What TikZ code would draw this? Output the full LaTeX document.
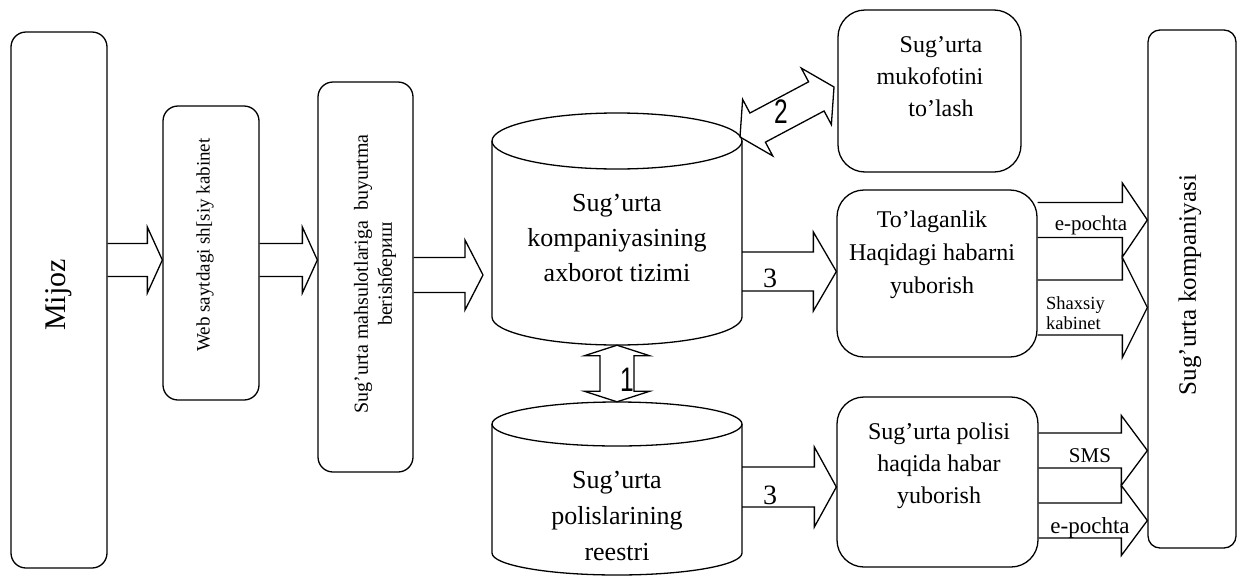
\documentclass[tikz,border=0pt]{standalone}
\usepackage{graphicx}
\usepackage{fontspec}
\setmainfont{Liberation Serif}
\newfontfamily\numfont{Liberation Sans}
\usetikzlibrary{calc}
\tikzset{
  ln/.style={line width=1.3pt},
  sbox/.style={ln, draw, rounded corners=15pt, inner sep=0pt},
  lbox/.style={ln, draw, rounded corners=27pt, inner sep=0pt},
  txt/.style={align=center, inner sep=0pt},
  arrowdims/.code n args={3}{%
    \pgfmathsetmacro\BAsw{#1}\pgfmathsetmacro\BAhw{#2}\pgfmathsetmacro\BAhl{#3}%
    \pgfmathsetmacro\BAra{veclen(#3,#1)}\pgfmathsetmacro\BAta{atan2(#1,#3)}%
    \pgfmathsetmacro\BArb{veclen(#3,#2)}\pgfmathsetmacro\BAtb{atan2(#2,#3)}%
  },
  barrow/.style n args={3}{ln, arrowdims={#1}{#2}{#3}, to path={
    ($(\tikztostart)!\BAsw pt!90:(\tikztotarget)$)
    -- ($(\tikztotarget)!\BAra pt!-\BAta:(\tikztostart)$)
    -- ($(\tikztotarget)!\BArb pt!-\BAtb:(\tikztostart)$)
    -- (\tikztotarget)
    -- ($(\tikztotarget)!\BArb pt!\BAtb:(\tikztostart)$)
    -- ($(\tikztotarget)!\BAra pt!\BAta:(\tikztostart)$)
    -- ($(\tikztostart)!\BAsw pt!-90:(\tikztotarget)$)
  }},
  dbarrow/.style n args={3}{ln, arrowdims={#1}{#2}{#3}, to path={
    (\tikztostart)
    -- ($(\tikztostart)!\BArb pt!\BAtb:(\tikztotarget)$)
    -- ($(\tikztostart)!\BAra pt!\BAta:(\tikztotarget)$)
    -- ($(\tikztotarget)!\BAra pt!-\BAta:(\tikztostart)$)
    -- ($(\tikztotarget)!\BArb pt!-\BAtb:(\tikztostart)$)
    -- (\tikztotarget)
    -- ($(\tikztotarget)!\BArb pt!\BAtb:(\tikztostart)$)
    -- ($(\tikztotarget)!\BAra pt!\BAta:(\tikztostart)$)
    -- ($(\tikztostart)!\BAra pt!-\BAta:(\tikztotarget)$)
    -- ($(\tikztostart)!\BArb pt!-\BAtb:(\tikztotarget)$)
    -- cycle
  }},
  numlbl/.style={inner sep=0pt, font=\numfont\fontsize{34}{34}\selectfont},
  serlbl/.style={inner sep=0pt, font=\fontsize{28}{28}\selectfont},
}
\begin{document}
\begin{tikzpicture}[x=1pt,y=-1pt]
\useasboundingbox (0,0) rectangle (1237,576);

% left boxes
\node[sbox, minimum width=96pt, minimum height=536pt] (mijoz) at (59,300) {};
\node[txt, rotate=90, font=\fontsize{30}{36}\selectfont] (mijozt) at (59,295) {Mijoz};

\node[sbox, minimum width=96pt, minimum height=294pt] (web) at (211,253) {};
\node[txt, rotate=90, font=\fontsize{19}{23}\selectfont] (webt) at (205,245) {Web saytdagi sh[siy kabinet};

\node[sbox, minimum width=95pt, minimum height=390pt] (mahs) at (365.5,277) {};
\node[txt, rotate=90, font=\fontsize{20}{24}\selectfont] (mahst) at (375,274) {Sug’urta mahsulotlariga\ \ buyurtma\\berishбериш};

% right tall box
\node[sbox, rounded corners=12pt, minimum width=88pt, minimum height=518pt] (komp) at (1192,289) {};
\node[txt, rotate=90, font=\fontsize{25}{30}\selectfont] (kompt) at (1190,285) {Sug’urta kompaniyasi};

% middle-right boxes
\node[lbox, minimum width=183pt, minimum height=162pt] (muk) at (929.5,91) {};
\node[txt, font=\fontsize{24}{32}\selectfont] (mukt) at (941,77) {Sug’urta\\\mbox{mukofotini\hspace{22pt}}\\to’lash};

\node[lbox, minimum width=200pt, minimum height=167pt] (tol) at (937,273.5) {};
\node[txt, font=\fontsize{24}{33}\selectfont] (tolt) at (932,255) {To’laganlik\\Haqidagi habarni\\yuborish};

\node[lbox, minimum width=201pt, minimum height=170pt] (pol) at (937.5,482) {};
\node[txt, font=\fontsize{24}{32}\selectfont] (polt) at (939,466) {Sug’urta polisi\\haqida habar\\yuborish};

% cylinders
\node[minimum width=250pt, minimum height=232pt, inner sep=0pt] (ais) at (617,229) {};
\draw[ln] (492,141) -- (492,317) arc[start angle=180, end angle=360, x radius=125pt, y radius=28pt] -- (742,141);
\draw[ln] (617,141) ellipse [x radius=125pt, y radius=28pt];
\node[txt, font=\fontsize{26}{35}\selectfont] (aist) at (617,238) {Sug’urta\\kompaniyasining\\axborot tizimi};

\node[minimum width=250pt, minimum height=173pt, inner sep=0pt] (reg) at (617,488.5) {};
\draw[ln] (492,424) -- (492,553) arc[start angle=180, end angle=360, x radius=125pt, y radius=22pt] -- (742,424);
\draw[ln] (617,424) ellipse [x radius=125pt, y radius=22pt];
\node[txt, font=\fontsize{26}{36}\selectfont] (regt) at (617,516) {Sug’urta\\polislarining\\reestri};

% helper coordinates
\coordinate (a3tip) at (483,275);
\coordinate (c2a) at (740,137);
\coordinate (c2b) at (834,87);

% block arrows
\draw[barrow={16.5}{33}{15}] (mijoz.east |- 0,260) to (web.west |- 0,260);
\draw[barrow={16.5}{33}{15}] (web.east |- 0,260) to (mahs.west |- 0,260);
\draw[barrow={17.5}{35}{18}] (mahs.east |- 0,275) to (a3tip);
\draw[barrow={19.5}{39.5}{23}] (ais.east |- 0,271.5) to (tol.west |- 0,271.5);
\draw[barrow={20}{40}{22}] (reg.east |- 0,487) to (pol.west |- 0,487);
\draw[dbarrow={17}{32.5}{10.5}] (ais.south) to (reg.north);
\draw[dbarrow={16.5}{32}{20}] (c2a) to (c2b);
\draw[barrow={17.5}{37}{25}] (tol.east |- 0,220) to (komp.west |- 0,220);
\draw[barrow={27.5}{50}{25}] (tol.east |- 0,307.5) to (komp.west |- 0,307.5);
\draw[barrow={17.5}{35}{26}] (pol.east |- 0,450.5) to (komp.west |- 0,450.5);
\draw[barrow={17.5}{35}{26}] (pol.east |- 0,520.5) to (komp.west |- 0,520.5);

% labels
\node[numlbl] (l2) at (781,112) {\scalebox{0.72}[1]{2}};
\node[numlbl] (l1) at (627,380) {\scalebox{0.72}[1]{1}};
\node[serlbl] (l3a) at (770,278) {3};
\node[serlbl] (l3b) at (770,495) {3};
\node[inner sep=0pt, font=\fontsize{21}{21}\selectfont] (ep1) at (1091,225) {e-pochta};
\node[inner sep=0pt, align=left, anchor=west, font=\fontsize{18.5}{20}\selectfont] (shk) at (1046,313) {Shaxsiy\\kabinet};
\node[inner sep=0pt, font=\fontsize{21}{21}\selectfont] (sms) at (1090,456) {SMS};
\node[inner sep=0pt, font=\fontsize{23}{23}\selectfont] (ep2) at (1090,528) {e-pochta};
\end{tikzpicture}
\end{document}
